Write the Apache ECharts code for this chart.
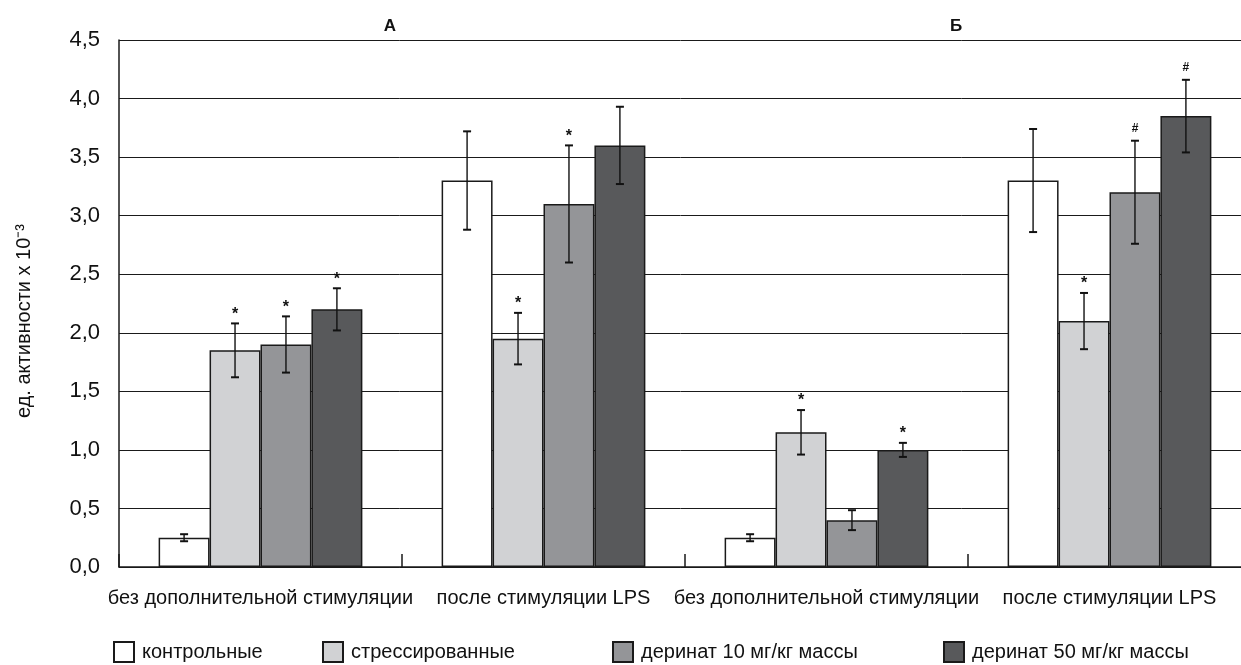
<!DOCTYPE html>
<html>
<head>
<meta charset="utf-8">
<script src="https://cdn.jsdelivr.net/npm/echarts@6/dist/echarts.min.js"></script>
<style>
  html, body { margin: 0; padding: 0; background: #fff; overflow: hidden; }
  #chart { width: 1241px; height: 665px; }
</style>
</head>
<body>
<div id="chart"></div>
<script>
// Groups along the x axis (two panels, A and Б, two conditions each)
const categories = [
  'без дополнительной стимуляции',
  'после стимуляции LPS',
  'без дополнительной стимуляции',
  'после стимуляции LPS'
];
const panelTitles = ['А', 'Б'];
const seriesNames = ['контрольные', 'стрессированные', 'деринат 10 мг/кг массы', 'деринат 50 мг/кг массы'];

// Mean activity per group, units x 10^-3
const control   = [0.25, 3.30, 0.25, 3.30];
const stressed  = [1.85, 1.95, 1.15, 2.10];
const derinat10 = [1.90, 3.10, 0.40, 3.20];
const derinat50 = [2.20, 3.60, 1.00, 3.85];

// Error (± half-width of the error bar)
const controlErr   = [0.03, 0.42, 0.03, 0.44];
const stressedErr  = [0.23, 0.22, 0.19, 0.24];
const derinat10Err = [0.24, 0.50, 0.085, 0.44];
const derinat50Err = [0.18, 0.33, 0.06, 0.31];

// Significance marks placed above the error bars
const controlMark   = ['', '', '', ''];
const stressedMark  = ['*', '*', '*', '*'];
const derinat10Mark = ['*', '*', '', '#'];
const derinat50Mark = ['*', '', '*', '#'];

const yTicks = { min: 0, max: 4.5, interval: 0.5 };

const values = [control, stressed, derinat10, derinat50];
const errors = [controlErr, stressedErr, derinat10Err, derinat50Err];
const marks  = [controlMark, stressedMark, derinat10Mark, derinat50Mark];
const colors = ['#ffffff', '#d1d2d4', '#949598', '#58595b'];

const FONT = "'Liberation Sans Narrow', 'Arial Narrow', 'Liberation Sans', Arial, sans-serif";
const CAT_GAP = 0.28;

const chart = echarts.init(document.getElementById('chart'), null, { renderer: 'canvas' });

const barSeries = seriesNames.map((name, s) => ({
  name,
  type: 'bar',
  data: values[s],
  barGap: '0%',
  barCategoryGap: (CAT_GAP * 100) + '%',
  itemStyle: { color: colors[s], borderColor: '#1a1a1a', borderWidth: 1.5 },
  emphasis: { disabled: true },
  z: 2
}));

// One error-bar record per bar: [category, seriesIndex, value, err, mark]
const errData = [];
values.forEach((arr, s) => arr.forEach((v, c) => errData.push([c, s, v, errors[s][c], marks[s][c]])));

const errSeries = {
  type: 'custom',
  data: errData,
  encode: { x: 0, y: 2 },
  z: 5,
  silent: true,
  clip: false,
  renderItem(params, api) {
    const c = api.value(0);
    const s = api.value(1);
    const v = api.value(2);
    const e = api.value(3);
    const mark = errData[params.dataIndex][4];
    const band = api.size([1, 0])[0];
    const barW = band * (1 - CAT_GAP) / 4;
    const cx = api.coord([c, 0])[0] + (s - 1.5) * barW;
    const yTop = api.coord([c, v + e])[1];
    const yBot = api.coord([c, v - e])[1];
    const cap = 4;
    const children = [
      { type: 'line', shape: { x1: cx, y1: yTop, x2: cx, y2: yBot }, style: { stroke: '#111', lineWidth: 1.4 } },
      { type: 'line', shape: { x1: cx - cap, y1: yTop, x2: cx + cap, y2: yTop }, style: { stroke: '#111', lineWidth: 2 } },
      { type: 'line', shape: { x1: cx - cap, y1: yBot, x2: cx + cap, y2: yBot }, style: { stroke: '#111', lineWidth: 2 } }
    ];
    if (mark) {
      const star = mark === '*';
      children.push({
        type: 'text',
        style: {
          text: mark,
          x: cx,
          y: star ? yTop - 1 : yTop - 6,
          align: 'center',
          verticalAlign: 'bottom',
          fontFamily: "'Liberation Sans', Arial, sans-serif",
          fontWeight: 'bold',
          fontSize: star ? 16 : 12,
          fill: '#111'
        }
      });
    }
    return { type: 'group', children };
  }
};

const legendLefts = [113, 322, 612, 943];

const option = {
  animation: false,
  backgroundColor: '#ffffff',
  textStyle: { fontFamily: FONT },
  // plot spans four 283px-wide groups; the last one runs slightly past the right edge
  grid: { left: 119, width: 1132, top: 40, height: 527, containLabel: false, outerBoundsMode: 'none' },
  legend: seriesNames.map((name, s) => ({
    data: [name],
    left: legendLefts[s],
    top: 641,
    padding: 0,
    icon: 'rect',
    itemWidth: 20,
    itemHeight: 20,
    itemGap: 10,
    selectedMode: false,
    textStyle: { fontFamily: FONT, fontSize: 20, color: '#111', padding: [0, 0, 0, 3] }
  })),
  xAxis: {
    type: 'category',
    data: categories,
    axisLine: { show: true, lineStyle: { color: '#1a1a1a', width: 1.5 } },
    axisTick: { show: true, inside: true, length: 13, alignWithLabel: false, lineStyle: { color: '#1a1a1a', width: 1.5 } },
    axisLabel: { fontFamily: FONT, fontSize: 20, color: '#111', margin: 21, interval: 0, hideOverlap: false },
    splitLine: { show: false }
  },
  yAxis: {
    type: 'value',
    min: yTicks.min,
    max: yTicks.max,
    interval: yTicks.interval,
    axisLine: { show: true, lineStyle: { color: '#1a1a1a', width: 1.5 } },
    axisTick: { show: false },
    axisLabel: {
      fontFamily: FONT, fontSize: 22, color: '#111', margin: 19,
      formatter: v => v.toFixed(1).replace('.', ',')
    },
    splitLine: { show: true, lineStyle: { color: '#1a1a1a', width: 1 } }
  },
  graphic: [
    {
      type: 'text', x: 390, y: 26,
      style: { text: panelTitles[0], align: 'center', verticalAlign: 'middle', fontFamily: "'Liberation Sans', Arial, sans-serif", fontWeight: 'bold', fontSize: 17, fill: '#111' }
    },
    {
      type: 'text', x: 956, y: 26,
      style: { text: panelTitles[1], align: 'center', verticalAlign: 'middle', fontFamily: "'Liberation Sans', Arial, sans-serif", fontWeight: 'bold', fontSize: 17, fill: '#111' }
    },
    {
      type: 'text', x: 24, y: 321, rotation: Math.PI / 2,
      style: { text: 'ед. активности х 10⁻³', align: 'center', verticalAlign: 'middle', fontFamily: FONT, fontSize: 20, fill: '#111' }
    }
  ],
  series: [...barSeries, errSeries]
};

chart.setOption(option);
</script>
</body>
</html>
